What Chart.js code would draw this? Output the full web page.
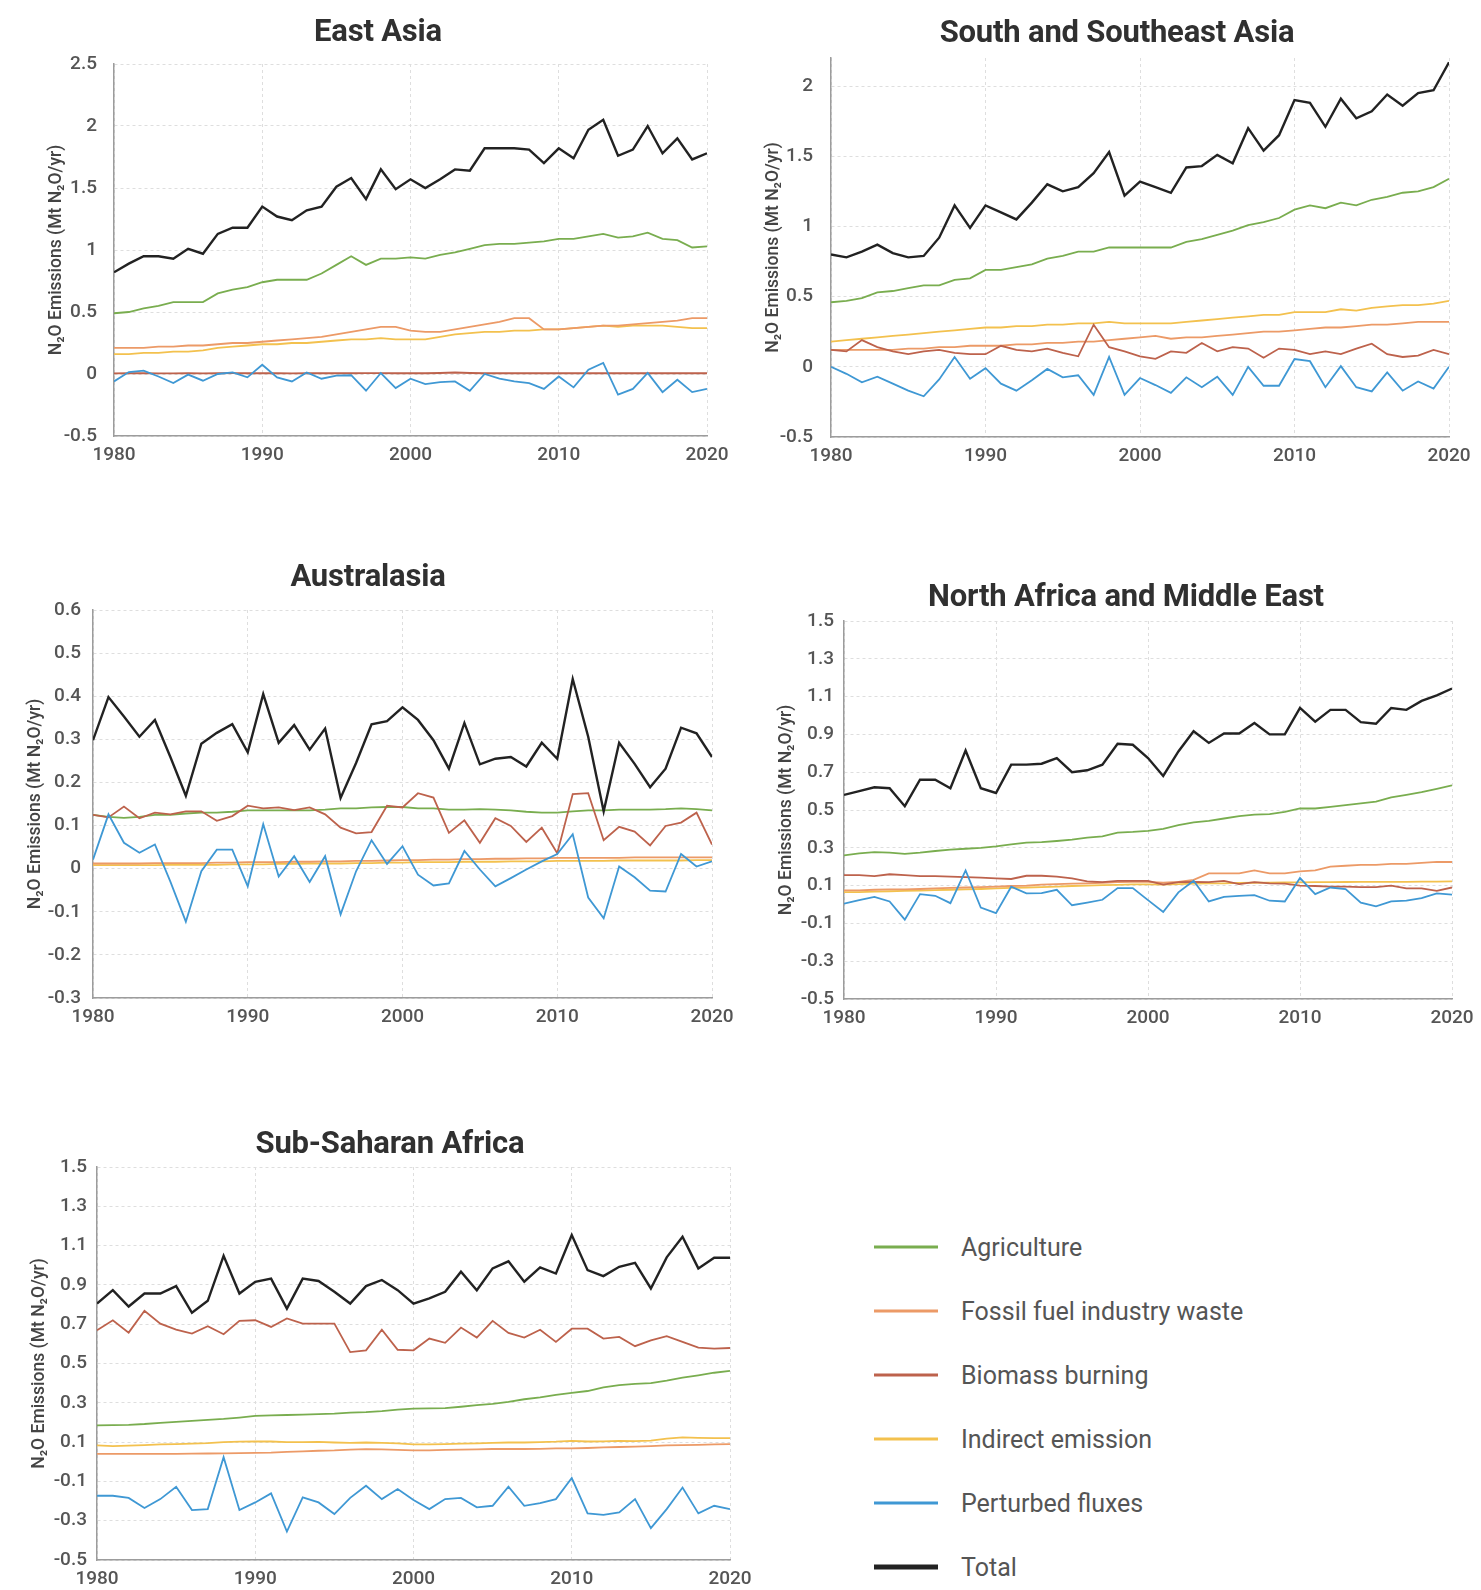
<!DOCTYPE html>
<html><head><meta charset="utf-8">
<script src="https://cdn.jsdelivr.net/npm/chart.js@4.4.0/dist/chart.umd.min.js"></script>
<style>
html,body{margin:0;padding:0;background:#fff;width:1481px;height:1590px;overflow:hidden;position:relative;font-family:Roboto,"Noto Sans",sans-serif;}
canvas{position:absolute;}
.title{position:absolute;transform:translate(-50%,-50%);font-weight:700;font-size:31px;color:#303030;white-space:nowrap;letter-spacing:-0.2px;}
.sw{position:absolute;left:874px;width:64px;transform:translateY(-50%);}
.lt{position:absolute;left:961px;font-size:25px;color:#555;transform:translateY(-50%);white-space:nowrap;}
</style></head><body>
<script>
const years = [1980,1981,1982,1983,1984,1985,1986,1987,1988,1989,1990,1991,1992,1993,1994,1995,1996,1997,1998,1999,2000,2001,2002,2003,2004,2005,2006,2007,2008,2009,2010,2011,2012,2013,2014,2015,2016,2017,2018,2019,2020];
const seriesNames = ['Agriculture','Fossil fuel industry waste','Biomass burning','Indirect emission','Perturbed fluxes','Total'];
const seriesColors = ['#79ad4f','#ec9a67','#bd624c','#f3c14e','#3f98d4','#222222'];
const yAxisTitle = 'N\u2082O Emissions (Mt N\u2082O/yr)';

// East Asia
const eaAgri = [0.49,0.50,0.53,0.55,0.58,0.58,0.58,0.65,0.68,0.70,0.74,0.76,0.76,0.76,0.81,0.88,0.95,0.88,0.93,0.93,0.94,0.93,0.96,0.98,1.01,1.04,1.05,1.05,1.06,1.07,1.09,1.09,1.11,1.13,1.10,1.11,1.14,1.09,1.08,1.02,1.03];
const eaFossil = [0.21,0.21,0.21,0.22,0.22,0.23,0.23,0.24,0.25,0.25,0.26,0.27,0.28,0.29,0.30,0.32,0.34,0.36,0.38,0.38,0.35,0.34,0.34,0.36,0.38,0.40,0.42,0.45,0.45,0.36,0.36,0.37,0.38,0.39,0.39,0.40,0.41,0.42,0.43,0.45,0.45];
const eaBiomass = [0.005,0.006,0.006,0.005,0.005,0.006,0.005,0.006,0.007,0.006,0.006,0.006,0.005,0.006,0.006,0.006,0.006,0.007,0.007,0.006,0.006,0.006,0.008,0.012,0.008,0.006,0.006,0.006,0.006,0.006,0.006,0.006,0.006,0.006,0.006,0.006,0.006,0.006,0.006,0.006,0.006];
const eaIndirect = [0.16,0.16,0.17,0.17,0.18,0.18,0.19,0.21,0.22,0.23,0.24,0.24,0.25,0.25,0.26,0.27,0.28,0.28,0.29,0.28,0.28,0.28,0.30,0.32,0.33,0.34,0.34,0.35,0.35,0.36,0.36,0.37,0.38,0.39,0.38,0.39,0.39,0.39,0.38,0.37,0.37];
const eaPerturbed = [-0.06,0.016,0.027,-0.02,-0.073,-0.005,-0.054,0.0,0.013,-0.027,0.075,-0.027,-0.06,0.013,-0.038,-0.013,-0.01,-0.135,0.008,-0.113,-0.038,-0.081,-0.065,-0.06,-0.135,0.0,-0.038,-0.06,-0.073,-0.12,-0.02,-0.108,0.035,0.089,-0.167,-0.12,0.008,-0.146,-0.046,-0.146,-0.12];
const eaTotal = [0.82,0.89,0.95,0.95,0.93,1.01,0.97,1.13,1.18,1.18,1.35,1.27,1.24,1.32,1.35,1.51,1.58,1.41,1.65,1.49,1.57,1.50,1.57,1.65,1.64,1.82,1.82,1.82,1.81,1.70,1.82,1.74,1.97,2.05,1.76,1.81,2.00,1.78,1.90,1.73,1.78];

// South and Southeast Asia
const ssAgri = [0.46,0.47,0.49,0.53,0.54,0.56,0.58,0.58,0.62,0.63,0.69,0.69,0.71,0.73,0.77,0.79,0.82,0.82,0.85,0.85,0.85,0.85,0.85,0.89,0.91,0.94,0.97,1.01,1.03,1.06,1.12,1.15,1.13,1.17,1.15,1.19,1.21,1.24,1.25,1.28,1.34];
const ssFossil = [0.12,0.12,0.12,0.12,0.12,0.13,0.13,0.14,0.14,0.15,0.15,0.15,0.16,0.16,0.17,0.17,0.18,0.18,0.19,0.20,0.21,0.22,0.20,0.21,0.21,0.22,0.23,0.24,0.25,0.25,0.26,0.27,0.28,0.28,0.29,0.30,0.30,0.31,0.32,0.32,0.32];
const ssBiomass = [0.12,0.11,0.19,0.14,0.11,0.09,0.11,0.12,0.10,0.09,0.09,0.15,0.12,0.11,0.13,0.10,0.075,0.30,0.14,0.11,0.075,0.057,0.11,0.10,0.17,0.11,0.14,0.13,0.065,0.13,0.12,0.09,0.11,0.09,0.13,0.165,0.09,0.07,0.08,0.12,0.09];
const ssIndirect = [0.18,0.19,0.20,0.21,0.22,0.23,0.24,0.25,0.26,0.27,0.28,0.28,0.29,0.29,0.30,0.30,0.31,0.31,0.32,0.31,0.31,0.31,0.31,0.32,0.33,0.34,0.35,0.36,0.37,0.37,0.39,0.39,0.39,0.41,0.40,0.42,0.43,0.44,0.44,0.45,0.47];
const ssPerturbed = [0.0,-0.05,-0.11,-0.07,-0.12,-0.17,-0.21,-0.09,0.07,-0.085,-0.01,-0.12,-0.17,-0.095,-0.015,-0.075,-0.06,-0.20,0.07,-0.20,-0.08,-0.13,-0.185,-0.075,-0.145,-0.07,-0.20,0.0,-0.135,-0.135,0.055,0.04,-0.145,0.005,-0.145,-0.175,-0.04,-0.17,-0.105,-0.155,0.0];
const ssTotal = [0.80,0.78,0.82,0.87,0.81,0.78,0.79,0.92,1.15,0.99,1.15,1.10,1.05,1.17,1.30,1.25,1.28,1.38,1.53,1.22,1.32,1.28,1.24,1.42,1.43,1.51,1.45,1.70,1.54,1.65,1.90,1.88,1.71,1.91,1.77,1.82,1.94,1.86,1.95,1.97,2.17];

// Australasia
const auAgri = [0.125,0.12,0.118,0.12,0.125,0.125,0.128,0.13,0.13,0.132,0.135,0.135,0.135,0.135,0.135,0.137,0.14,0.14,0.142,0.143,0.143,0.14,0.14,0.137,0.137,0.138,0.137,0.135,0.132,0.13,0.13,0.133,0.135,0.135,0.137,0.137,0.137,0.138,0.14,0.138,0.135];
const auFossil = [0.012,0.012,0.012,0.012,0.013,0.013,0.013,0.013,0.014,0.014,0.015,0.015,0.015,0.016,0.016,0.017,0.017,0.018,0.018,0.019,0.020,0.020,0.021,0.021,0.022,0.022,0.023,0.023,0.024,0.024,0.025,0.025,0.025,0.025,0.025,0.026,0.026,0.026,0.026,0.026,0.026];
const auBiomass = [0.125,0.119,0.144,0.117,0.13,0.126,0.133,0.133,0.111,0.122,0.146,0.14,0.142,0.136,0.142,0.126,0.095,0.082,0.085,0.146,0.142,0.175,0.165,0.083,0.112,0.06,0.117,0.099,0.062,0.095,0.036,0.173,0.175,0.066,0.097,0.086,0.054,0.099,0.107,0.13,0.056];
const auIndirect = [0.008,0.008,0.008,0.008,0.008,0.009,0.009,0.009,0.009,0.010,0.010,0.010,0.011,0.011,0.012,0.012,0.012,0.013,0.013,0.014,0.014,0.015,0.015,0.015,0.016,0.016,0.016,0.017,0.017,0.017,0.018,0.018,0.018,0.018,0.019,0.019,0.019,0.019,0.019,0.020,0.020];
const auPerturbed = [0.021,0.126,0.06,0.037,0.056,-0.03,-0.123,-0.006,0.044,0.044,-0.041,0.103,-0.018,0.029,-0.031,0.029,-0.106,-0.006,0.066,0.011,0.052,-0.014,-0.039,-0.034,0.041,-0.002,-0.041,-0.022,-0.002,0.017,0.034,0.08,-0.067,-0.115,0.005,-0.02,-0.051,-0.053,0.034,0.005,0.017];
const auTotal = [0.298,0.398,0.353,0.306,0.345,0.259,0.169,0.29,0.315,0.335,0.27,0.405,0.292,0.333,0.276,0.325,0.164,0.245,0.335,0.342,0.374,0.345,0.298,0.232,0.338,0.242,0.255,0.259,0.237,0.292,0.255,0.44,0.306,0.133,0.292,0.243,0.189,0.232,0.327,0.314,0.259];

// North Africa and Middle East
const naAgri = [0.26,0.27,0.277,0.274,0.268,0.274,0.283,0.29,0.295,0.30,0.307,0.318,0.327,0.33,0.336,0.343,0.354,0.36,0.38,0.384,0.39,0.40,0.42,0.434,0.443,0.455,0.468,0.476,0.478,0.49,0.508,0.508,0.517,0.526,0.535,0.544,0.567,0.58,0.594,0.612,0.63];
const naFossil = [0.075,0.075,0.078,0.08,0.08,0.082,0.085,0.088,0.09,0.092,0.095,0.098,0.10,0.105,0.108,0.11,0.112,0.115,0.118,0.12,0.12,0.115,0.12,0.13,0.165,0.165,0.165,0.18,0.165,0.165,0.175,0.18,0.20,0.205,0.21,0.21,0.215,0.215,0.22,0.225,0.225];
const naBiomass = [0.155,0.155,0.15,0.16,0.155,0.15,0.15,0.148,0.145,0.142,0.138,0.135,0.152,0.152,0.148,0.138,0.122,0.118,0.125,0.125,0.125,0.105,0.118,0.12,0.118,0.125,0.108,0.118,0.112,0.11,0.10,0.098,0.095,0.095,0.092,0.092,0.10,0.085,0.085,0.072,0.09];
const naIndirect = [0.065,0.066,0.068,0.07,0.072,0.074,0.076,0.078,0.08,0.082,0.085,0.088,0.09,0.092,0.095,0.098,0.10,0.102,0.104,0.106,0.106,0.105,0.108,0.11,0.112,0.112,0.114,0.115,0.116,0.117,0.117,0.118,0.118,0.119,0.12,0.12,0.12,0.12,0.121,0.121,0.122];
const naPerturbed = [0.005,0.023,0.04,0.016,-0.08,0.055,0.046,0.007,0.18,-0.016,-0.046,0.094,0.059,0.06,0.078,-0.004,0.01,0.025,0.087,0.087,0.023,-0.04,0.064,0.126,0.016,0.04,0.046,0.05,0.02,0.016,0.14,0.055,0.09,0.082,0.01,-0.01,0.016,0.02,0.034,0.059,0.052];
const naTotal = [0.58,0.60,0.62,0.615,0.52,0.66,0.66,0.615,0.815,0.615,0.59,0.74,0.74,0.745,0.775,0.70,0.71,0.74,0.85,0.845,0.775,0.68,0.81,0.917,0.855,0.905,0.905,0.96,0.90,0.90,1.04,0.967,1.03,1.03,0.965,0.956,1.04,1.03,1.077,1.107,1.143];

// Sub-Saharan Africa
const saAgri = [0.185,0.186,0.188,0.192,0.198,0.203,0.208,0.213,0.218,0.225,0.233,0.236,0.238,0.24,0.242,0.245,0.25,0.253,0.258,0.265,0.27,0.272,0.273,0.28,0.288,0.295,0.305,0.318,0.328,0.34,0.35,0.36,0.378,0.39,0.396,0.40,0.413,0.428,0.44,0.453,0.462];
const saFossil = [0.04,0.04,0.04,0.04,0.04,0.04,0.041,0.042,0.043,0.044,0.045,0.046,0.05,0.053,0.056,0.058,0.062,0.064,0.063,0.06,0.058,0.058,0.06,0.062,0.063,0.065,0.066,0.065,0.066,0.068,0.068,0.07,0.073,0.075,0.077,0.08,0.083,0.085,0.086,0.088,0.09];
const saBiomass = [0.669,0.72,0.657,0.768,0.703,0.672,0.652,0.69,0.649,0.717,0.72,0.686,0.729,0.703,0.703,0.703,0.558,0.567,0.672,0.57,0.567,0.627,0.605,0.683,0.632,0.717,0.656,0.632,0.672,0.61,0.677,0.677,0.627,0.635,0.588,0.618,0.639,0.61,0.581,0.576,0.579];
const saIndirect = [0.083,0.08,0.082,0.085,0.088,0.09,0.092,0.095,0.10,0.102,0.103,0.103,0.10,0.10,0.101,0.098,0.096,0.098,0.096,0.093,0.088,0.088,0.09,0.092,0.094,0.096,0.098,0.098,0.10,0.102,0.106,0.103,0.104,0.106,0.105,0.108,0.118,0.124,0.122,0.12,0.12];
const saPerturbed = [-0.173,-0.173,-0.184,-0.235,-0.19,-0.127,-0.246,-0.241,0.023,-0.246,-0.207,-0.161,-0.355,-0.181,-0.207,-0.266,-0.184,-0.122,-0.19,-0.139,-0.195,-0.241,-0.19,-0.184,-0.232,-0.224,-0.127,-0.224,-0.21,-0.19,-0.083,-0.263,-0.27,-0.258,-0.19,-0.338,-0.241,-0.131,-0.263,-0.224,-0.241];
const saTotal = [0.805,0.873,0.79,0.856,0.856,0.894,0.758,0.819,1.048,0.856,0.916,0.932,0.779,0.932,0.92,0.865,0.805,0.894,0.925,0.873,0.805,0.831,0.865,0.967,0.873,0.984,1.02,0.916,0.989,0.958,1.154,0.975,0.945,0.992,1.012,0.882,1.04,1.145,0.984,1.038,1.038];

const panelTitles = ['East Asia','South and Southeast Asia','Australasia','North Africa and Middle East','Sub-Saharan Africa'];
const panelYMin = [-0.5,-0.5,-0.3,-0.5,-0.5];
const panelYMax = [2.5,2.2,0.6,1.5,1.5];
const panelYStep = [0.5,0.5,0.1,0.2,0.2];

Chart.defaults.font.family = 'Roboto, "Noto Sans", sans-serif';

const layouts = [
  {L:114,R:707,T:64,B:436,tx:378,ty:30,tp:17},
  {L:831,R:1449,T:58,B:437,tx:1117,ty:31,tp:18},
  {L:93,R:712,T:610,B:998,tx:368,ty:575,tp:12},
  {L:844,R:1452,T:621,B:999,tx:1126,ty:595,tp:10},
  {L:97,R:730,T:1167,B:1560,tx:390,ty:1142,tp:10}
];
const panelData = [
  [eaAgri,eaFossil,eaBiomass,eaIndirect,eaPerturbed,eaTotal],
  [ssAgri,ssFossil,ssBiomass,ssIndirect,ssPerturbed,ssTotal],
  [auAgri,auFossil,auBiomass,auIndirect,auPerturbed,auTotal],
  [naAgri,naFossil,naBiomass,naIndirect,naPerturbed,naTotal],
  [saAgri,saFossil,saBiomass,saIndirect,saPerturbed,saTotal]
];
const drawOrder = [5,3,2,4,1,0];

const gridCfg = {color:'#dedede', lineWidth:1, drawTicks:false};
const borderCfg = {display:true, color:'#9c9c9c', width:1.5, dash:[3,3]};
const tickFont = {size:19, weight:'500'};
const fmt = v => String(Number(Number(v).toFixed(3)));

panelData.forEach((vals, p) => {
  const g = layouts[p];
  const c = document.createElement('canvas');
  const PADL = 80, PADT = 40, PADR = 45, XH = 45;
  const w = g.R - g.L + PADL + PADR;
  const h = g.B - g.T + PADT + XH;
  c.width = w; c.height = h;
  c.style.left = (g.L - PADL) + 'px';
  c.style.top = (g.T - PADT) + 'px';
  c.style.width = w + 'px'; c.style.height = h + 'px';
  document.body.appendChild(c);

  const t = document.createElement('div');
  t.className = 'title';
  t.textContent = panelTitles[p];
  t.style.left = g.tx + 'px'; t.style.top = g.ty + 'px';
  document.body.appendChild(t);

  const step = panelYStep[p];
  const yMin = panelYMin[p];
  const datasets = vals.map((v, i) => ({
    label: seriesNames[i],
    data: v,
    borderColor: seriesColors[i],
    backgroundColor: seriesColors[i],
    borderWidth: i === 5 ? 2.4 : 1.8,
    pointRadius: 0,
    tension: 0,
    fill: false,
    order: drawOrder[i]
  }));

  new Chart(c, {
    type: 'line',
    data: {labels: years, datasets},
    options: {
      responsive: false, animation: false, devicePixelRatio: 1, events: [],
      layout: {padding: {top: PADT, right: PADR, left: 0, bottom: 0}},
      plugins: {legend: {display: false}, tooltip: {enabled: false}},
      scales: {
        x: {
          type: 'linear', min: 1980, max: 2020, bounds: 'data',
          ticks: {stepSize: 10, padding: 8, color: '#555', font: tickFont, maxRotation: 0, autoSkip: false, callback: v => String(v)},
          grid: gridCfg, border: borderCfg,
          afterFit(s) { s.height = XH; }
        },
        y: {
          type: 'linear', min: yMin, max: panelYMax[p], bounds: 'data',
          ticks: {stepSize: step, padding: g.tp, color: '#555', font: tickFont, includeBounds: false, callback: v => fmt(v)},
          afterBuildTicks(s) {
            s.ticks = s.ticks.filter(tk => {
              const k = (tk.value - yMin) / step;
              return Math.abs(k - Math.round(k)) < 1e-6;
            });
          },
          grid: gridCfg, border: borderCfg,
          title: {display: true, text: yAxisTitle, color: '#444', font: {size: 17.5, weight: '500'}, padding: {top: 12, bottom: 0}},
          afterFit(s) { s.width = PADL; }
        }
      }
    }
  });
});

// legend
const legendY = [1247, 1311, 1375, 1439, 1503, 1567];
seriesNames.forEach((name, i) => {
  const sw = document.createElement('div');
  sw.className = 'sw';
  sw.style.top = legendY[i] + 'px';
  sw.style.height = (i === 5 ? 5 : 3) + 'px';
  sw.style.background = seriesColors[i];
  document.body.appendChild(sw);
  const lt = document.createElement('div');
  lt.className = 'lt';
  lt.style.top = legendY[i] + 'px';
  lt.textContent = name;
  document.body.appendChild(lt);
});
</script>
</body></html>
